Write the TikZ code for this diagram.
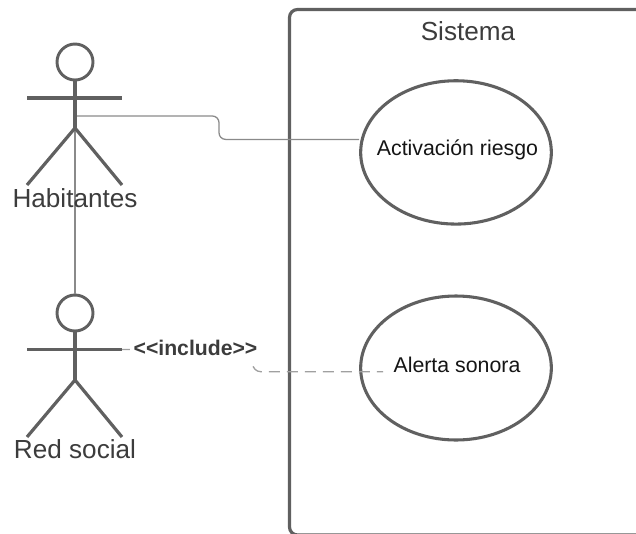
\documentclass[tikz,border=0pt]{standalone}
\usepackage{fontspec}
\setmainfont{Liberation Sans}
\usetikzlibrary{shapes.geometric}
\definecolor{shapeline}{HTML}{606060}
\definecolor{wire}{HTML}{8A8A8A}
\definecolor{dashwire}{HTML}{A0A0A0}
\definecolor{labeltext}{HTML}{3C3C3C}
\definecolor{usetext}{HTML}{151515}
\tikzset{
  thick line/.style={draw=shapeline,line width=2.4pt},
  usecase/.style={ellipse,draw=shapeline,line width=2.3pt,minimum width=143pt,inner sep=0pt,fill=white},
  head/.style={circle,draw=shapeline,line width=2.2pt,minimum size=27pt,inner sep=0pt},
  actorname/.style={text=labeltext,font=\fontsize{19.6pt}{22pt}\selectfont,inner sep=0pt},
  usename/.style={text=usetext,font=\fontsize{16pt}{19pt}\selectfont,inner sep=0pt},
  solidwire/.style={draw=wire,line width=0.95pt,rounded corners=5pt},
  dashedwire/.style={draw=dashwire,line width=1pt,rounded corners=6pt,dash pattern=on 8.25pt off 5.25pt},
}
\begin{document}
\begin{tikzpicture}[x=0.75pt,y=-0.75pt]
\useasboundingbox (0,0) rectangle (636,533);
\clip (0,0) rectangle (636,533);
\coordinate (hab) at (75,116);
\coordinate (hiphab) at (75,128);
\coordinate (armred) at (122,349.5);
\coordinate (dashend) at (383,371.7);
\node[head] (head2) at (75,313) {};
% system frame
\draw[thick line,rounded corners=6pt] (660,9.5) -- (289.5,9.5) -- (289.5,535) -- (660,535);
\node[usecase,minimum height=107.5pt] (riesgo) at (456,152.4) {};
\node[usecase,minimum height=108pt] (alerta) at (456,368) {};
\draw[solidwire] (hab) -- (219,116) -- (219,139.4) -- (riesgo.west |- 0,139.4);
\draw[solidwire,rounded corners=0pt] (hiphab) -- (head2.north);
% actor 1
\node[head] (head1) at (75,62) {};
\draw[thick line] (head1.south) -- (hiphab);
\draw[thick line] (27,98) -- (122,98);
\draw[thick line] (27,185) -- (hiphab) -- (122,185);
\node[actorname] (nhab) at (75,198) {Habitantes};
% actor 2
\draw[thick line] (head2.south) -- (75,380) coordinate (hipred);
\draw[thick line] (27,349.5) -- (armred);
\draw[thick line] (27,437) -- (hipred) -- (122,437);
\node[actorname] (nred) at (75,449) {Red social};
% use case names and dashed link
\node[usename] (talerta) at (457,365) {Alerta sonora};
\draw[dashedwire] (armred) -- (252.7,349.5) -- (252.7,371.7) -- (dashend);
\node[text=labeltext,fill=white,inner sep=0pt,minimum width=98pt,minimum height=23.25pt,font=\bfseries\fontsize{15.9pt}{18pt}\selectfont] (inc) at (195.5,347.5) {<{}<include>{}>};
\node[usename] (triesgo) at (457.5,150) {Activación riesgo};
\node[text=labeltext,font=\fontsize{19.6pt}{22pt}\selectfont,inner sep=0pt] (sis) at (468,31) {Sistema};
\end{tikzpicture}
\end{document}
